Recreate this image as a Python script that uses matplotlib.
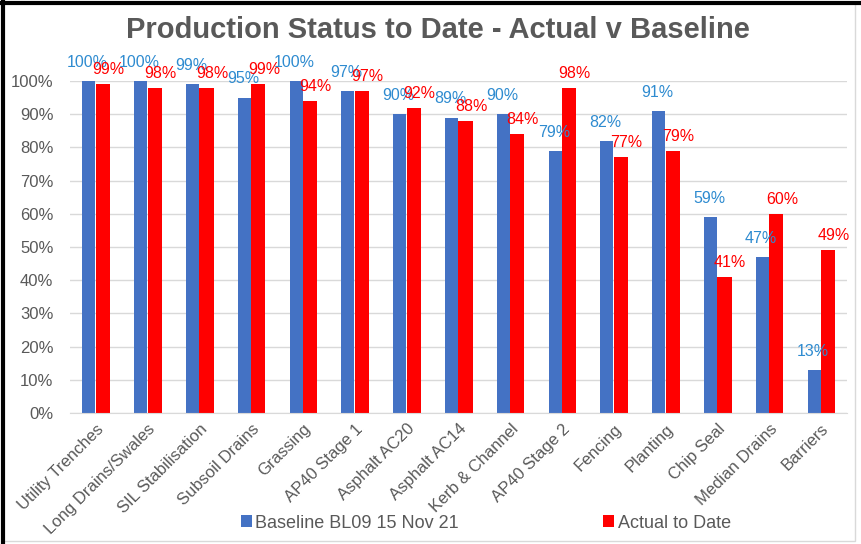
import numpy as np
import matplotlib
matplotlib.use("Agg")
import matplotlib.pyplot as plt
from matplotlib.patches import Rectangle

plt.rcParams['font.family'] = ['Liberation Sans', 'DejaVu Sans']

categories = ["Utility Trenches", "Long Drains/Swales", "SIL Stabilisation", "Subsoil Drains",
              "Grassing", "AP40 Stage 1", "Asphalt AC20", "Asphalt AC14", "Kerb & Channel",
              "AP40 Stage 2", "Fencing", "Planting", "Chip Seal", "Median Drains", "Barriers"]
baseline = [100, 100, 99, 95, 100, 97, 90, 89, 90, 79, 82, 91, 59, 47, 13]
actual = [99, 98, 98, 99, 94, 97, 92, 88, 84, 98, 77, 79, 41, 60, 49]

blue = "#4472C4"
red = "#FF0000"
blue_txt = "#2E8BD0"
grey_txt = "#595959"

fig = plt.figure(figsize=(8.61, 5.44), dpi=100)
ax = fig.add_axes([0.0813, 0.2408, 0.9024, 0.6103])

x = np.arange(len(categories))
w = 0.25
b1 = ax.bar(x - w / 2 - 0.01, baseline, w, color=blue, label="Baseline BL09 15 Nov 21", zorder=2)
b2 = ax.bar(x + w / 2 + 0.01, actual, w * 1.1, color=red, label="Actual to Date", zorder=2)

# data labels
for rect, v in zip(b1, baseline):
    ax.annotate(f"{v}%", (rect.get_x() + rect.get_width() / 2, v), xytext=(-1, 8),
                textcoords="offset points", ha="center", va="bottom", fontsize=11.5,
                color=blue_txt, annotation_clip=False, zorder=3)
for rect, v in zip(b2, actual):
    ax.annotate(f"{v}%", (rect.get_x() + rect.get_width() / 2, v), xytext=(4, 5),
                textcoords="offset points", ha="center", va="bottom", fontsize=11.5,
                color=red, annotation_clip=False, zorder=4)

ax.set_xlim(-0.5, len(categories) - 0.5)
ax.set_ylim(0, 100)
ax.set_yticks(np.arange(0, 101, 10))
ax.set_yticklabels([f"{t}%" for t in range(0, 101, 10)])
ax.set_xticks(x)
ax.set_xticklabels(categories, rotation=45, ha="right", rotation_mode="anchor")
ax.tick_params(axis="both", length=0, labelsize=12, colors=grey_txt)
ax.tick_params(axis="x", pad=6)
ax.tick_params(axis="y", pad=12)
ax.grid(axis="y", color="#D9D9D9", linewidth=1, zorder=0)
for s in ["top", "right", "left"]:
    ax.spines[s].set_visible(False)
ax.spines["bottom"].set_color("#D9D9D9")

fig.text(438 / 861, 1 - 30 / 544, "Production Status to Date - Actual v Baseline",
         ha="center", va="center", fontsize=21, fontweight="bold", color=grey_txt)

fig.legend(loc="center", bbox_to_anchor=(486 / 861, 1 - 523 / 544), ncol=2, frameon=False,
           fontsize=13, handlelength=0.6, handleheight=0.6, handletextpad=0.2,
           columnspacing=8, labelcolor=grey_txt)

# frame around the picture
fig.patches.append(Rectangle((0.003, 0.005), 0.99, 0.99, transform=fig.transFigure,
                             fill=False, edgecolor="#D9D9D9", linewidth=1))
fig.add_artist(plt.Line2D([0, 1], [0.995, 0.995], color="black", linewidth=3, transform=fig.transFigure))
fig.add_artist(plt.Line2D([0.003, 0.003], [0, 1], color="black", linewidth=3, transform=fig.transFigure))

fig.savefig("out.png", dpi=100)
